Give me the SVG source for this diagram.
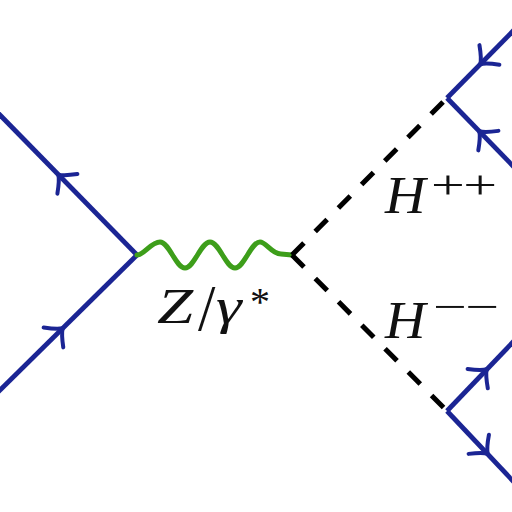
<svg xmlns="http://www.w3.org/2000/svg" width="512" height="512" viewBox="0 0 512 512">
<style>
.f{fill:none;stroke:#1b2594;stroke-width:4.8;stroke-linecap:butt}
.ar{fill:none;stroke:#1b2594;stroke-width:4;stroke-linecap:round;stroke-linejoin:round}
.s{fill:none;stroke:#000;stroke-width:5;stroke-dasharray:17 16}
.b{fill:none;stroke:#3d9e1a;stroke-width:5;stroke-linecap:round}
.t{font-family:"Liberation Serif","Times New Roman",serif;fill:#111}
</style>
<defs>
<path id="arr" class="ar" d="M -12,-14 Q -4,-3 1,0 Q -4,3 -12,14"/>
</defs>
<rect width="512" height="512" fill="#fff"/>
<g id="connectors">
<path id="q1" class="f" d="M -2,113 L 137,255"/>
<path id="q2" class="f" d="M -2,392 L 137,255"/>
<path id="wave" class="b" d="M137,255 C 144,255 151,242 160,242 C 164.48,242 168.32,248.17 172.5,255 C 176.68,261.83 180.52,268 185,268 C 189.48,268 193.32,261.83 197.5,255 C 201.68,248.17 205.52,242 210,242 C 214.48,242 218.32,248.17 222.5,255 C 226.68,261.83 230.52,268 235,268 C 239.48,268 243.32,261.83 247.5,255 C 251.68,248.17 255.52,242 260,242 C 266,242 272,254 281,254 L 292,255"/>
<path id="h1" class="s" d="M 292,255 L 447,98"/>
<path id="h2" class="s" d="M 292,255 L 447,411"/>
<path id="l1" class="f" d="M 447,98 L 514,30"/>
<path id="l2" class="f" d="M 447,98 L 514,167"/>
<path id="l3" class="f" d="M 447,411 L 514,341"/>
<path id="l4" class="f" d="M 447,411 L 514,482"/>
<use href="#arr" transform="translate(59,175.3) rotate(-134.4)"/>
<use href="#arr" transform="translate(62,329) rotate(-44.6)"/>
<use href="#arr" transform="translate(481,63.5) rotate(134.6)"/>
<use href="#arr" transform="translate(480,132) rotate(-134.1)"/>
<use href="#arr" transform="translate(486,370) rotate(-46.3)"/>
<use href="#arr" transform="translate(487,453) rotate(46.7)"/>
</g>
<g id="label-z">
<text class="t" font-size="50" font-style="italic" transform="translate(157,323) scale(1.3,1)">Z</text>
<text class="t" font-size="50" transform="translate(198,330) scale(1.25,1.3)">/</text>
<text class="t" font-size="50" font-style="italic" transform="translate(216,323) scale(1.3,1)">γ</text>
<text class="t" font-size="40" x="250" y="315">*</text>
</g>
<g id="label-hpp">
<text class="t" font-size="52" font-style="italic" transform="translate(385,213) scale(1.08,1)">H</text>
<text class="t" font-size="40" letter-spacing="-1" transform="translate(431,198) scale(1.5,1)">++</text>
</g>
<g id="label-hmm">
<text class="t" font-size="52" font-style="italic" transform="translate(385,338) scale(1.08,1)">H</text>
<text class="t" font-size="40" letter-spacing="-1" transform="translate(433,320) scale(1.5,1)">−−</text>
</g>
</svg>
